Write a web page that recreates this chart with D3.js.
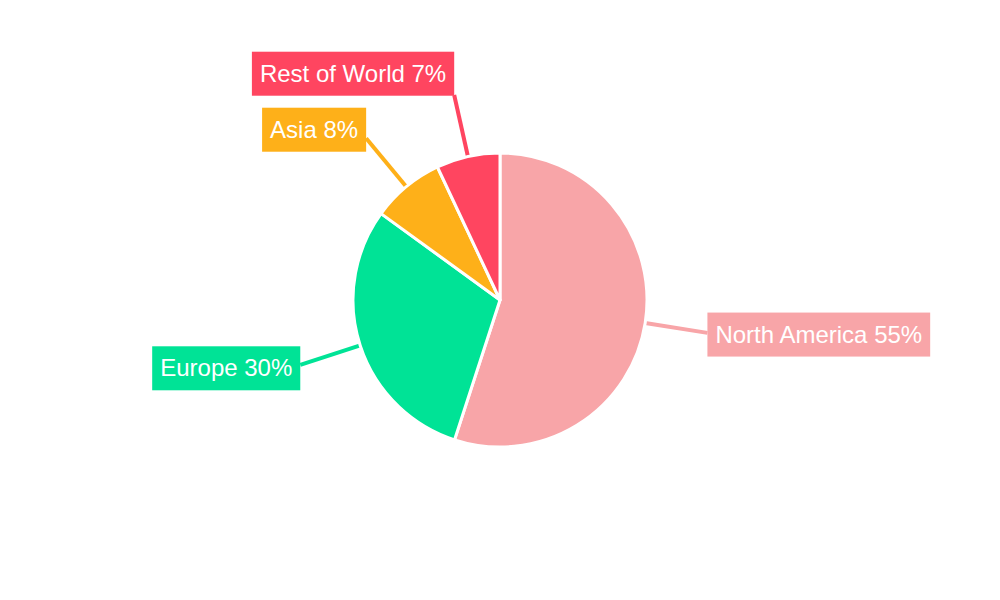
<!DOCTYPE html>
<html>
<head>
<meta charset="utf-8">
<script src="https://cdn.jsdelivr.net/npm/d3@7"></script>
<style>
  html, body { margin: 0; padding: 0; background: #fff; }
  svg { display: block; font-family: "Liberation Sans", Arial, sans-serif; }
</style>
</head>
<body>
<svg id="chart" width="1000" height="600"></svg>
<script>
const categories = ["North America", "Europe", "Asia", "Rest of World"];
const values = [55, 30, 8, 7];
const colors = ["#F8A5A8", "#00E396", "#FEB019", "#FF4560"];

const W = 1000, H = 600;
const cx = 500, cy = 300, R = 147, Rline = 210;
const boxH = 44, padX = 8, gap = 12, fontSize = 24;

const svg = d3.select("#chart");
const data = categories.map((c, i) => ({ name: c, value: values[i], color: colors[i] }));
const total = d3.sum(values);

const pie = d3.pie().value(d => d.value).sort(null);
const arcs = pie(data);
const arc = d3.arc().innerRadius(0).outerRadius(R);

const g = svg.append("g").attr("transform", `translate(${cx},${cy})`);

// measure text widths
const meas = svg.append("text").attr("font-size", fontSize).attr("visibility", "hidden");
arcs.forEach(a => {
  a.label = `${a.data.name} ${Math.round(a.data.value / total * 100)}%`;
  meas.text(a.label);
  a.tw = meas.node().getComputedTextLength();
  const mid = (a.startAngle + a.endAngle) / 2;
  a.mid = mid;
  a.sx = R * Math.sin(mid); a.sy = -R * Math.cos(mid);
  a.ex = Rline * Math.sin(mid); a.ey = -Rline * Math.cos(mid);
  a.right = Math.sin(mid) >= 0;
  a.cyLabel = a.ey + 11 * (-Math.cos(mid));
});
meas.remove();

// resolve overlaps per side (push upper labels upward)
[true, false].forEach(side => {
  const s = arcs.filter(a => a.right === side).sort((a, b) => b.cyLabel - a.cyLabel);
  for (let i = 1; i < s.length; i++) {
    const maxY = s[i - 1].cyLabel - boxH - gap;
    if (s[i].cyLabel > maxY) s[i].cyLabel = maxY;
  }
});

// connector lines
g.selectAll("line.conn").data(arcs).join("line")
  .attr("class", "conn")
  .attr("x1", d => d.sx).attr("y1", d => d.sy)
  .attr("x2", d => d.ex).attr("y2", d => d.ey)
  .attr("stroke", d => d.data.color)
  .attr("stroke-width", 4);

// slices
g.selectAll("path.slice").data(arcs).join("path")
  .attr("class", "slice")
  .attr("d", arc)
  .attr("fill", d => d.data.color)
  .attr("stroke", "#fff")
  .attr("stroke-width", 3)
  .attr("stroke-linejoin", "round");

// labels
const lab = g.selectAll("g.lab").data(arcs).join("g").attr("class", "lab")
  .attr("transform", d => {
    const w = d.tw + padX * 2;
    const x = d.right ? d.ex : d.ex - w;
    return `translate(${x},${d.cyLabel - boxH / 2})`;
  });
lab.append("rect")
  .attr("width", d => d.tw + padX * 2)
  .attr("height", boxH)
  .attr("fill", d => d.data.color);
lab.append("text")
  .attr("x", padX)
  .attr("y", boxH / 2 + 8)
  .attr("font-size", fontSize)
  .attr("fill", "#fff")
  .text(d => d.label);
</script>
</body>
</html>
